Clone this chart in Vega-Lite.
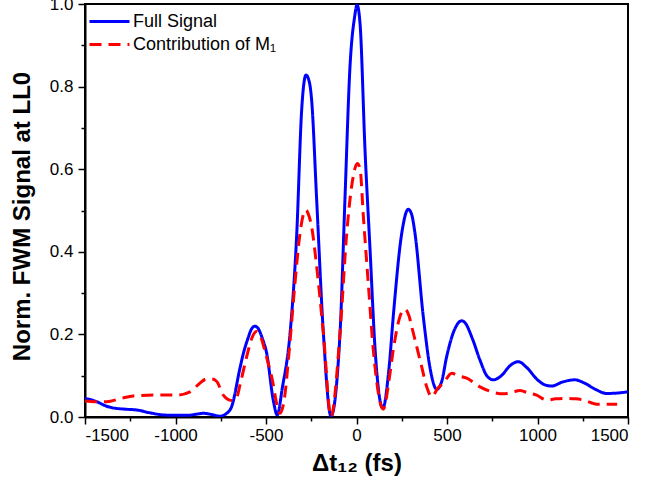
{
  "$schema": "https://vega.github.io/schema/vega-lite/v6.json",
  "autosize": {"type": "none"},
  "padding": {"left": 85, "top": 4, "right": 21, "bottom": 69},
  "width": 543,
  "height": 413,
  "background": "white",
  "config": {
    "view": {"stroke": "black", "strokeWidth": 2},
    "font": "Liberation Sans",
    "axis": {
      "grid": false,
      "domainColor": "black",
      "domainWidth": 2,
      "tickColor": "black",
      "tickWidth": 1.5,
      "labelColor": "black",
      "labelFont": "Liberation Sans",
      "labelFontSize": 17,
      "titleFont": "Liberation Sans",
      "titleFontWeight": "bold",
      "titleFontSize": 24,
      "titleColor": "black",
      "labelOverlap": false
    }
  },
  "data": {
    "values": [
      {"t": -1500, "v": 0.045, "s": "Full Signal"},
      {"t": -1440, "v": 0.038, "s": "Full Signal"},
      {"t": -1380, "v": 0.026, "s": "Full Signal"},
      {"t": -1344, "v": 0.022, "s": "Full Signal"},
      {"t": -1280, "v": 0.019, "s": "Full Signal"},
      {"t": -1214, "v": 0.017, "s": "Full Signal"},
      {"t": -1140, "v": 0.010, "s": "Full Signal"},
      {"t": -1067, "v": 0.005, "s": "Full Signal"},
      {"t": -1000, "v": 0.004, "s": "Full Signal"},
      {"t": -938, "v": 0.004, "s": "Full Signal"},
      {"t": -880, "v": 0.007, "s": "Full Signal"},
      {"t": -846, "v": 0.009, "s": "Full Signal"},
      {"t": -800, "v": 0.006, "s": "Full Signal"},
      {"t": -754, "v": 0.002, "s": "Full Signal"},
      {"t": -720, "v": 0.008, "s": "Full Signal"},
      {"t": -690, "v": 0.025, "s": "Full Signal"},
      {"t": -644, "v": 0.118, "s": "Full Signal"},
      {"t": -625, "v": 0.154, "s": "Full Signal"},
      {"t": -600, "v": 0.19, "s": "Full Signal"},
      {"t": -580, "v": 0.213, "s": "Full Signal"},
      {"t": -561, "v": 0.220, "s": "Full Signal"},
      {"t": -540, "v": 0.212, "s": "Full Signal"},
      {"t": -520, "v": 0.19, "s": "Full Signal"},
      {"t": -496, "v": 0.154, "s": "Full Signal"},
      {"t": -460, "v": 0.041, "s": "Full Signal"},
      {"t": -438, "v": 0.005, "s": "Full Signal"},
      {"t": -410, "v": 0.07, "s": "Full Signal"},
      {"t": -367, "v": 0.203, "s": "Full Signal"},
      {"t": -330, "v": 0.445, "s": "Full Signal"},
      {"t": -303, "v": 0.743, "s": "Full Signal"},
      {"t": -279, "v": 0.828, "s": "Full Signal"},
      {"t": -260, "v": 0.81, "s": "Full Signal"},
      {"t": -248, "v": 0.768, "s": "Full Signal"},
      {"t": -220, "v": 0.525, "s": "Full Signal"},
      {"t": -183, "v": 0.203, "s": "Full Signal"},
      {"t": -141, "v": 0.002, "s": "Full Signal"},
      {"t": -91, "v": 0.203, "s": "Full Signal"},
      {"t": -64, "v": 0.525, "s": "Full Signal"},
      {"t": -36, "v": 0.848, "s": "Full Signal"},
      {"t": -10, "v": 0.97, "s": "Full Signal"},
      {"t": 3, "v": 0.998, "s": "Full Signal"},
      {"t": 20, "v": 0.95, "s": "Full Signal"},
      {"t": 47, "v": 0.647, "s": "Full Signal"},
      {"t": 75, "v": 0.404, "s": "Full Signal"},
      {"t": 103, "v": 0.162, "s": "Full Signal"},
      {"t": 145, "v": 0.021, "s": "Full Signal"},
      {"t": 180, "v": 0.12, "s": "Full Signal"},
      {"t": 203, "v": 0.243, "s": "Full Signal"},
      {"t": 250, "v": 0.445, "s": "Full Signal"},
      {"t": 286, "v": 0.503, "s": "Full Signal"},
      {"t": 305, "v": 0.49, "s": "Full Signal"},
      {"t": 323, "v": 0.445, "s": "Full Signal"},
      {"t": 369, "v": 0.243, "s": "Full Signal"},
      {"t": 410, "v": 0.11, "s": "Full Signal"},
      {"t": 443, "v": 0.067, "s": "Full Signal"},
      {"t": 470, "v": 0.085, "s": "Full Signal"},
      {"t": 498, "v": 0.146, "s": "Full Signal"},
      {"t": 540, "v": 0.21, "s": "Full Signal"},
      {"t": 581, "v": 0.233, "s": "Full Signal"},
      {"t": 600, "v": 0.228, "s": "Full Signal"},
      {"t": 640, "v": 0.19, "s": "Full Signal"},
      {"t": 682, "v": 0.138, "s": "Full Signal"},
      {"t": 720, "v": 0.1, "s": "Full Signal"},
      {"t": 756, "v": 0.090, "s": "Full Signal"},
      {"t": 800, "v": 0.100, "s": "Full Signal"},
      {"t": 850, "v": 0.125, "s": "Full Signal"},
      {"t": 894, "v": 0.134, "s": "Full Signal"},
      {"t": 940, "v": 0.12, "s": "Full Signal"},
      {"t": 1000, "v": 0.09, "s": "Full Signal"},
      {"t": 1040, "v": 0.078, "s": "Full Signal"},
      {"t": 1078, "v": 0.075, "s": "Full Signal"},
      {"t": 1140, "v": 0.085, "s": "Full Signal"},
      {"t": 1207, "v": 0.090, "s": "Full Signal"},
      {"t": 1260, "v": 0.082, "s": "Full Signal"},
      {"t": 1320, "v": 0.067, "s": "Full Signal"},
      {"t": 1382, "v": 0.057, "s": "Full Signal"},
      {"t": 1440, "v": 0.058, "s": "Full Signal"},
      {"t": 1500, "v": 0.061, "s": "Full Signal"},
      {"t": -1500, "v": 0.039, "s": "Contribution of M₁"},
      {"t": -1440, "v": 0.037, "s": "Contribution of M₁"},
      {"t": -1380, "v": 0.037, "s": "Contribution of M₁"},
      {"t": -1300, "v": 0.045, "s": "Contribution of M₁"},
      {"t": -1233, "v": 0.051, "s": "Contribution of M₁"},
      {"t": -1123, "v": 0.053, "s": "Contribution of M₁"},
      {"t": -993, "v": 0.053, "s": "Contribution of M₁"},
      {"t": -920, "v": 0.061, "s": "Contribution of M₁"},
      {"t": -870, "v": 0.08, "s": "Contribution of M₁"},
      {"t": -828, "v": 0.092, "s": "Contribution of M₁"},
      {"t": -800, "v": 0.092, "s": "Contribution of M₁"},
      {"t": -772, "v": 0.086, "s": "Contribution of M₁"},
      {"t": -736, "v": 0.053, "s": "Contribution of M₁"},
      {"t": -690, "v": 0.040, "s": "Contribution of M₁"},
      {"t": -660, "v": 0.05, "s": "Contribution of M₁"},
      {"t": -644, "v": 0.077, "s": "Contribution of M₁"},
      {"t": -610, "v": 0.14, "s": "Contribution of M₁"},
      {"t": -579, "v": 0.190, "s": "Contribution of M₁"},
      {"t": -552, "v": 0.207, "s": "Contribution of M₁"},
      {"t": -530, "v": 0.195, "s": "Contribution of M₁"},
      {"t": -500, "v": 0.15, "s": "Contribution of M₁"},
      {"t": -469, "v": 0.098, "s": "Contribution of M₁"},
      {"t": -423, "v": 0.009, "s": "Contribution of M₁"},
      {"t": -400, "v": 0.04, "s": "Contribution of M₁"},
      {"t": -370, "v": 0.17, "s": "Contribution of M₁"},
      {"t": -340, "v": 0.324, "s": "Contribution of M₁"},
      {"t": -312, "v": 0.445, "s": "Contribution of M₁"},
      {"t": -290, "v": 0.495, "s": "Contribution of M₁"},
      {"t": -279, "v": 0.501, "s": "Contribution of M₁"},
      {"t": -265, "v": 0.49, "s": "Contribution of M₁"},
      {"t": -248, "v": 0.461, "s": "Contribution of M₁"},
      {"t": -220, "v": 0.364, "s": "Contribution of M₁"},
      {"t": -183, "v": 0.203, "s": "Contribution of M₁"},
      {"t": -141, "v": 0.001, "s": "Contribution of M₁"},
      {"t": -91, "v": 0.203, "s": "Contribution of M₁"},
      {"t": -54, "v": 0.445, "s": "Contribution of M₁"},
      {"t": -27, "v": 0.558, "s": "Contribution of M₁"},
      {"t": 5, "v": 0.614, "s": "Contribution of M₁"},
      {"t": 20, "v": 0.6, "s": "Contribution of M₁"},
      {"t": 38, "v": 0.485, "s": "Contribution of M₁"},
      {"t": 65, "v": 0.324, "s": "Contribution of M₁"},
      {"t": 93, "v": 0.162, "s": "Contribution of M₁"},
      {"t": 148, "v": 0.019, "s": "Contribution of M₁"},
      {"t": 180, "v": 0.09, "s": "Contribution of M₁"},
      {"t": 203, "v": 0.162, "s": "Contribution of M₁"},
      {"t": 240, "v": 0.243, "s": "Contribution of M₁"},
      {"t": 268, "v": 0.261, "s": "Contribution of M₁"},
      {"t": 290, "v": 0.245, "s": "Contribution of M₁"},
      {"t": 305, "v": 0.219, "s": "Contribution of M₁"},
      {"t": 360, "v": 0.122, "s": "Contribution of M₁"},
      {"t": 390, "v": 0.07, "s": "Contribution of M₁"},
      {"t": 415, "v": 0.049, "s": "Contribution of M₁"},
      {"t": 450, "v": 0.07, "s": "Contribution of M₁"},
      {"t": 480, "v": 0.082, "s": "Contribution of M₁"},
      {"t": 526, "v": 0.106, "s": "Contribution of M₁"},
      {"t": 560, "v": 0.1, "s": "Contribution of M₁"},
      {"t": 609, "v": 0.094, "s": "Contribution of M₁"},
      {"t": 682, "v": 0.073, "s": "Contribution of M₁"},
      {"t": 740, "v": 0.062, "s": "Contribution of M₁"},
      {"t": 811, "v": 0.056, "s": "Contribution of M₁"},
      {"t": 860, "v": 0.06, "s": "Contribution of M₁"},
      {"t": 903, "v": 0.064, "s": "Contribution of M₁"},
      {"t": 950, "v": 0.058, "s": "Contribution of M₁"},
      {"t": 995, "v": 0.053, "s": "Contribution of M₁"},
      {"t": 1051, "v": 0.041, "s": "Contribution of M₁"},
      {"t": 1100, "v": 0.044, "s": "Contribution of M₁"},
      {"t": 1161, "v": 0.045, "s": "Contribution of M₁"},
      {"t": 1210, "v": 0.044, "s": "Contribution of M₁"},
      {"t": 1253, "v": 0.041, "s": "Contribution of M₁"},
      {"t": 1300, "v": 0.034, "s": "Contribution of M₁"},
      {"t": 1327, "v": 0.031, "s": "Contribution of M₁"},
      {"t": 1380, "v": 0.031, "s": "Contribution of M₁"},
      {"t": 1440, "v": 0.031, "s": "Contribution of M₁"}
    ]
  },
  "mark": {"type": "line", "strokeWidth": 3, "interpolate": "monotone", "clip": true},
  "encoding": {
    "x": {
      "field": "t",
      "type": "quantitative",
      "scale": {"domain": [-1500, 1500], "nice": false, "zero": false},
      "axis": {
        "title": "Δt₁₂ (fs)",
        "values": [-1500, -1250, -1000, -750, -500, -250, 0, 250, 500, 750, 1000, 1250, 1500],
        "labelExpr": "datum.value % 500 == 0 ? replace(datum.label, '−', '-') : ''",
        "format": "d",
        "tickSize": {"condition": {"test": "datum.value % 500 == 0", "value": 7}, "value": 4},
        "labelPadding": 3,
        "titleX": 271.5,
        "titleY": 53,
        "titleBaseline": "alphabetic",
        "titleAlign": "center"
      }
    },
    "y": {
      "field": "v",
      "type": "quantitative",
      "scale": {"domain": [0, 1], "nice": false},
      "axis": {
        "title": "Norm. FWM Signal at LL0",
        "values": [0, 0.1, 0.2, 0.3, 0.4, 0.5, 0.6, 0.7, 0.8, 0.9, 1.0],
        "labelExpr": "(round(datum.value * 10) % 2 == 0) ? format(datum.value, '.1f') : ''",
        "tickSize": {"condition": {"test": "round(datum.value * 10) % 2 == 0", "value": 7}, "value": 4},
        "labelPadding": 5,
        "titleX": -56,
        "titleY": 212,
        "titleBaseline": "alphabetic",
        "titleAlign": "center",
        "titleAngle": 270
      }
    },
    "color": {
      "field": "s",
      "type": "nominal",
      "sort": ["Full Signal", "Contribution of M₁"],
      "scale": {"domain": ["Full Signal", "Contribution of M₁"], "range": ["#0000ff", "#ff0000"]},
      "legend": {
        "title": null,
        "orient": "none",
        "legendX": 13,
        "legendY": 6,
        "symbolType": "M-2,0H2",
        "symbolSize": 400,
        "symbolStrokeWidth": 3,
        "labelFontSize": 18,
        "labelFont": "Liberation Sans",
        "labelColor": "black",
        "labelOffset": 12,
        "rowPadding": 2
      }
    },
    "strokeDash": {
      "field": "s",
      "type": "nominal",
      "sort": ["Full Signal", "Contribution of M₁"],
      "scale": {"domain": ["Full Signal", "Contribution of M₁"], "range": [[1, 0], [12, 7]]},
      "legend": {
        "title": null,
        "orient": "none",
        "legendX": 13,
        "legendY": 6,
        "symbolType": "M-2,0H2",
        "symbolSize": 400,
        "symbolStrokeWidth": 3,
        "labelFontSize": 18,
        "labelFont": "Liberation Sans",
        "labelColor": "black",
        "labelOffset": 12,
        "rowPadding": 2
      }
    }
  }
}
